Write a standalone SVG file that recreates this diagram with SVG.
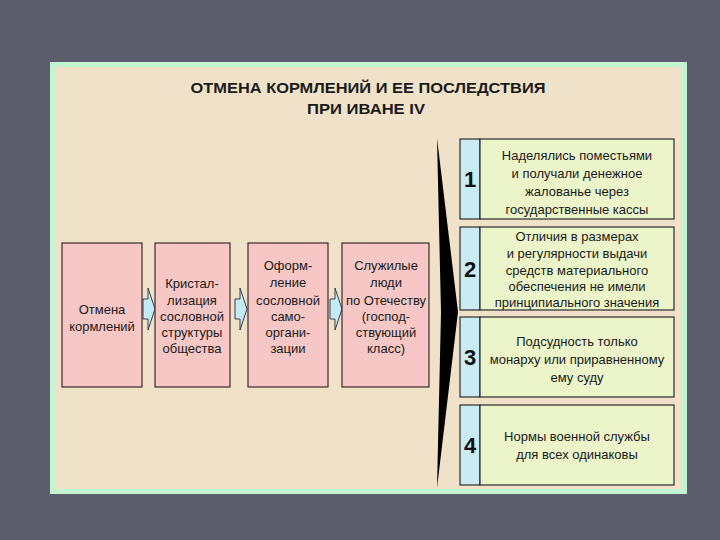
<svg xmlns="http://www.w3.org/2000/svg" width="720" height="540" viewBox="0 0 720 540">
<style>
.t{font-family:"Liberation Sans",Arial,sans-serif;fill:#1a1a1a;text-anchor:middle}
.title{font-size:14.5px;font-weight:bold}
.l{font-size:13px}
.r{font-size:13px}
.num{font-size:22px;font-weight:bold;font-family:"Liberation Sans",Arial,sans-serif;fill:#111;text-anchor:middle}
.pink{fill:#f6c7c4;stroke:#3b2b2b;stroke-width:1.2}
.nbox{fill:#c9ebf3;stroke:#2b2b2b;stroke-width:1.2}
.tbox{fill:#ebf5c9;stroke:#2b2b2b;stroke-width:1.2}
.arr{fill:#c3ebf6;stroke:#2a2a3a;stroke-width:0.9}
</style>
<rect x="0" y="0" width="720" height="540" fill="#5b5d6d"/>
<rect x="50" y="62" width="637" height="432" fill="#c4f3d2"/>
<rect x="55" y="67" width="627" height="422" fill="#f0e2c8"/>
<g id="title">
<text class="t title" x="368" y="93" textLength="355" lengthAdjust="spacingAndGlyphs">ОТМЕНА КОРМЛЕНИЙ И ЕЕ ПОСЛЕДСТВИЯ</text>
<text class="t title" x="366" y="114" textLength="118" lengthAdjust="spacingAndGlyphs">ПРИ ИВАНЕ IV</text>
</g>
<g id="connectors">
<polygon class="arr" points="143,299 148,299 148,288 155,309 148,330 148,319 143,319"/>
<polygon class="arr" points="235,299 240,299 240,288 247,309 240,330 240,319 235,319"/>
<polygon class="arr" points="330,299 335,299 335,288 342,309 335,330 335,319 330,319"/>
<polygon fill="#000" points="437,138 458,312 437,488 441,312"/>
</g>
<g id="node-otmena">
<rect class="pink" x="62" y="243" width="80" height="144"/>
<text class="t l" x="102" y="314">Отмена</text>
<text class="t l" x="102" y="331">кормлений</text>
</g>
<g id="node-kristal">
<rect class="pink" x="155" y="243" width="75" height="144"/>
<text class="t l" x="192" y="288">Кристал-</text>
<text class="t l" x="192" y="305">лизация</text>
<text class="t l" x="192" y="321">сословной</text>
<text class="t l" x="192" y="337">структуры</text>
<text class="t l" x="192" y="353">общества</text>
</g>
<g id="node-oform">
<rect class="pink" x="248" y="243" width="80" height="144"/>
<text class="t l" x="288" y="270">Оформ-</text>
<text class="t l" x="288" y="287">ление</text>
<text class="t l" x="288" y="305">сословной</text>
<text class="t l" x="288" y="321">само-</text>
<text class="t l" x="288" y="337">органи-</text>
<text class="t l" x="288" y="353">зации</text>
</g>
<g id="node-sluzh">
<rect class="pink" x="342" y="243" width="87" height="144"/>
<text class="t l" x="386" y="270">Служилые</text>
<text class="t l" x="386" y="287">люди</text>
<text class="t l" x="386" y="305">по Отечеству</text>
<text class="t l" x="386" y="321">(господ-</text>
<text class="t l" x="386" y="337">ствующий</text>
<text class="t l" x="386" y="353">класс)</text>
</g>
<g id="node-1">
<rect class="nbox" x="460" y="139" width="20" height="80"/>
<rect class="tbox" x="480" y="139" width="194" height="80"/>
<text class="num" x="470" y="187">1</text>
<text class="t r" x="577" y="160">Наделялись поместьями</text>
<text class="t r" x="577" y="178">и получали денежное</text>
<text class="t r" x="577" y="196">жалованье через</text>
<text class="t r" x="577" y="214">государственные кассы</text>
</g>
<g id="node-2">
<rect class="nbox" x="460" y="227" width="20" height="83"/>
<rect class="tbox" x="480" y="227" width="194" height="83"/>
<text class="num" x="470" y="277">2</text>
<text class="t r" x="577" y="241">Отличия в размерах</text>
<text class="t r" x="577" y="258">и регулярности выдачи</text>
<text class="t r" x="577" y="275">средств материального</text>
<text class="t r" x="577" y="291">обеспечения не имели</text>
<text class="t r" x="577" y="307">принципиального значения</text>
</g>
<g id="node-3">
<rect class="nbox" x="460" y="317" width="20" height="80"/>
<rect class="tbox" x="480" y="317" width="194" height="80"/>
<text class="num" x="470" y="365">3</text>
<text class="t r" x="577" y="346">Подсудность только</text>
<text class="t r" x="577" y="364">монарху или приравненному</text>
<text class="t r" x="577" y="382">ему суду</text>
</g>
<g id="node-4">
<rect class="nbox" x="460" y="405" width="20" height="80"/>
<rect class="tbox" x="480" y="405" width="194" height="80"/>
<text class="num" x="470" y="453">4</text>
<text class="t r" x="577" y="441">Нормы военной службы</text>
<text class="t r" x="577" y="459">для всех одинаковы</text>
</g>
</svg>
